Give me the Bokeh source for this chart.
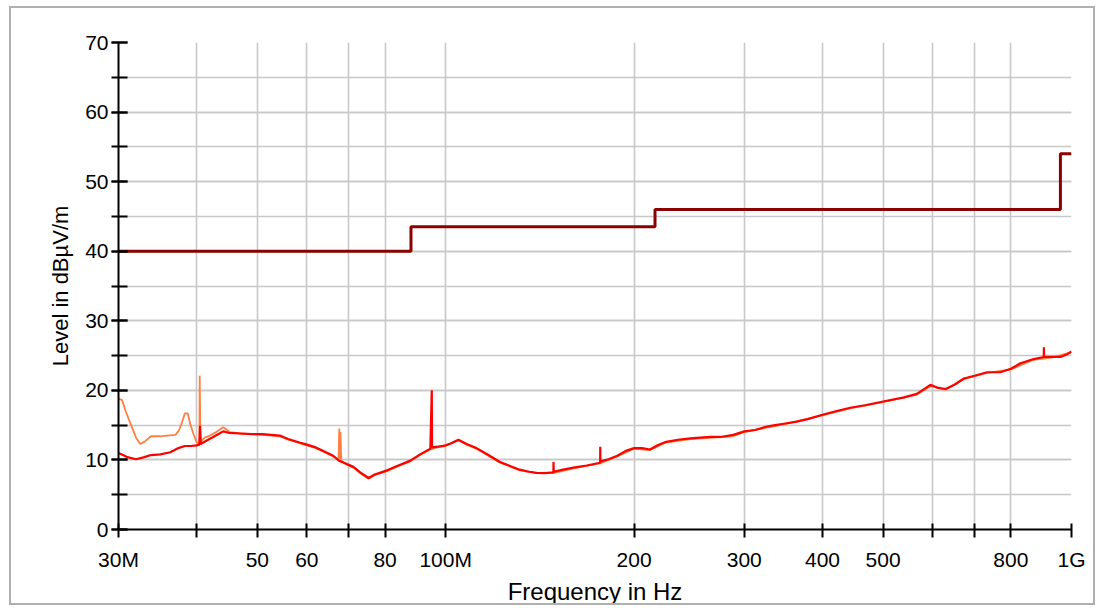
from bokeh.plotting import figure
from bokeh.models import (Range1d, FixedTicker, SingleIntervalTicker, CustomJSTickFormatter,
                          InlineStyleSheet)
from bokeh.embed import file_html
from bokeh.resources import INLINE

# ---------------- data (frequencies in MHz, levels in dBuV/m) ----------------
limit_freq = [30, 88, 88, 216, 216, 960, 960, 1000]
limit_level = [40, 40, 43.5, 43.5, 46, 46, 54, 54]

red_freq = [30, 30.5, 31, 32, 33, 33.8, 35, 36.3, 37.4, 38.3, 39.2, 40.0, 40.4, 40.5, 40.6,
            41.5, 42.5, 43.5, 44.1, 45, 47, 49, 51, 54.3, 56, 58.4, 60, 62, 64, 66.1, 67.5,
            69.5, 71.2, 73, 75.3, 77, 80.6, 84, 87.8, 91, 94.5, 95.0, 95.1, 97, 100, 102,
            104.8, 108, 112, 117, 122.1, 127, 131.3, 136, 139.7, 144, 148.6, 148.7, 148.8,
            154, 160, 168, 176.5, 176.6, 176.7, 182, 188, 194, 200, 206, 212, 218, 225, 235,
            246, 255, 265, 275, 288, 300, 312, 326, 336, 347, 364, 380, 400, 420, 443, 470,
            500, 540, 566, 595, 610, 629, 650, 673, 700, 733, 770, 800, 829, 870, 903,
            903.5, 904, 930, 960, 985, 1000]
red_level = [11.0, 10.7, 10.4, 10.1, 10.4, 10.7, 10.8, 11.1, 11.7, 12.0, 12.0, 12.1, 12.2, 14.9, 12.3,
             12.8, 13.3, 13.8, 14.1, 13.9, 13.8, 13.7, 13.7, 13.5, 13.0, 12.5, 12.2, 11.8, 11.2, 10.6, 9.9,
             9.4, 9.0, 8.2, 7.4, 7.9, 8.5, 9.2, 9.9, 10.8, 11.6, 20.0, 11.8, 11.9, 12.1, 12.4,
             12.9, 12.3, 11.7, 10.7, 9.7, 9.1, 8.6, 8.3, 8.15, 8.1, 8.2, 9.7, 8.3,
             8.6, 8.9, 9.2, 9.6, 11.9, 9.8, 10.1, 10.6, 11.3, 11.7, 11.7, 11.5, 12.1, 12.6, 12.9,
             13.1, 13.2, 13.3, 13.3, 13.6, 14.1, 14.3, 14.8, 15.0, 15.2, 15.5, 15.9, 16.5, 17.0, 17.5, 17.9,
             18.4, 19.0, 19.5, 20.8, 20.4, 20.2, 20.8, 21.7, 22.1, 22.6, 22.6, 23.1, 23.9, 24.5, 24.8,
             26.2, 24.8, 24.8, 24.8, 25.2, 25.6]

orange_freq = [30, 30.4, 30.8, 31.3, 32, 32.5, 33, 33.8, 35, 35.8, 37, 37.5, 37.9, 38.3, 38.7,
               39.0, 39.5, 40.0, 40.4, 40.45, 40.55, 41.2, 42, 43, 44.1, 45.2, 47, 49, 51, 54.3,
               56, 58.4, 60, 62, 64, 66.1, 67.4, 67.6, 67.75, 67.9, 68.1, 69.5, 71.2, 73, 75.3,
               77, 80.6, 84, 87.8, 91, 94.5, 97, 100, 104.8, 108, 112, 117, 122.1, 127, 131.3,
               139.7, 148.6, 160, 176.5, 188, 200, 212, 225, 246, 288, 300, 347, 400, 443, 500,
               566, 595, 629, 673, 733, 800, 870, 930, 1000]
orange_level = [18.8, 18.6, 17.0, 15.4, 13.2, 12.3, 12.6, 13.4, 13.4, 13.5, 13.6, 14.3, 15.4, 16.7, 16.7,
                15.4, 13.8, 12.5, 12.3, 22.1, 12.6, 13.2, 13.5, 14.0, 14.7, 14.0, 13.8, 13.7, 13.6, 13.4,
                12.9, 12.4, 12.1, 11.7, 11.1, 10.5, 10.1, 14.5, 10.2, 14.0, 9.9, 9.3, 8.9, 8.1, 7.3,
                7.8, 8.4, 9.1, 9.8, 10.7, 11.5, 11.8, 12.0, 12.8, 12.2, 11.6, 10.6, 9.6, 9.0, 8.5,
                8.1, 8.1, 8.8, 9.5, 10.5, 11.6, 11.4, 12.5, 13.0, 13.4, 14.0, 15.1, 16.4, 17.4, 18.3,
                19.4, 20.6, 20.1, 21.6, 22.5, 23.0, 24.4, 24.7, 25.5]

x_tick_vals = [30, 40, 50, 60, 70, 80, 100, 200, 300, 400, 500, 600, 700, 800, 1000]
x_tick_labels = ["30M", "", "50", "60", "", "80", "100M", "200", "300", "400", "500", "", "", "800", "1G"]

# ---------------- figure ----------------
FONT = "Liberation Sans"
p = figure(width=1104, height=612, x_axis_type="log", output_backend="svg",
           toolbar_location=None, x_range=Range1d(30, 1000), y_range=Range1d(0, 70),
           min_border_left=118, min_border_right=33, min_border_top=42, min_border_bottom=83)
p.outline_line_color = None
p.background_fill_color = "white"
p.border_fill_color = "white"

# thin grey frame around the whole page (drawn by CSS on top of the canvas)
p.stylesheets = [InlineStyleSheet(css="""
:host { position: relative; }
:host::after {
  content: ""; position: absolute; left: 9px; top: 6px; width: 1086px; height: 599px;
  border: 2px solid #b0b0b0; box-sizing: border-box; pointer-events: none; z-index: 10;
}
""")]

xt = FixedTicker(ticks=x_tick_vals, minor_ticks=[])
p.xaxis.ticker = xt
p.xgrid.ticker = xt
p.xaxis.formatter = CustomJSTickFormatter(
    args=dict(vals=x_tick_vals, labs=x_tick_labels),
    code="""
    for (let i = 0; i < vals.length; i++) {
        if (Math.abs(vals[i] - tick) < 1e-6 * vals[i]) { return labs[i]; }
    }
    return "";
    """)

yt = SingleIntervalTicker(interval=10, num_minor_ticks=2)
p.yaxis.ticker = yt
p.ygrid.ticker = yt

for ax in (p.xaxis[0], p.yaxis[0]):
    ax.axis_line_color = "black"
    ax.axis_line_width = 2
    ax.major_tick_line_color = "black"
    ax.major_tick_line_width = 2
    ax.minor_tick_line_color = "black"
    ax.minor_tick_line_width = 2
    ax.major_label_text_font = FONT
    ax.major_label_text_font_size = "21px"
    ax.major_label_text_color = "black"
    ax.axis_label_text_font = FONT
    ax.axis_label_text_font_size = "22px"
    ax.axis_label_text_font_style = "normal"
    ax.axis_label_text_color = "black"

p.xaxis.major_tick_in = 6
p.xaxis.major_tick_out = 8
p.xaxis.major_label_standoff = 10
p.xaxis.axis_label = "Frequency in Hz"
p.xaxis.axis_label_text_font_size = "24px"
p.xaxis.axis_label_standoff = 4

p.yaxis.major_tick_in = 9
p.yaxis.major_tick_out = 7
p.yaxis.minor_tick_in = 9
p.yaxis.minor_tick_out = 7
p.yaxis.major_label_standoff = 3
p.yaxis.axis_label = "Level in dBµV/m"
p.yaxis.axis_label_standoff = 9

grid_col = "#c8c8c8"
p.xgrid.grid_line_color = grid_col
p.xgrid.grid_line_width = 1.6
p.ygrid.grid_line_color = grid_col
p.ygrid.grid_line_width = 1.6
p.ygrid.minor_grid_line_color = grid_col
p.ygrid.minor_grid_line_width = 1.6

# ---------------- data lines ----------------
p.line(limit_freq, limit_level, line_color="#8b0000", line_width=3)
p.line(orange_freq, orange_level, line_color="#ff8040", line_width=1.8)
p.line(red_freq, red_level, line_color="#ff0000", line_width=2.2)

open("out.html", "w").write(file_html(p, INLINE))
